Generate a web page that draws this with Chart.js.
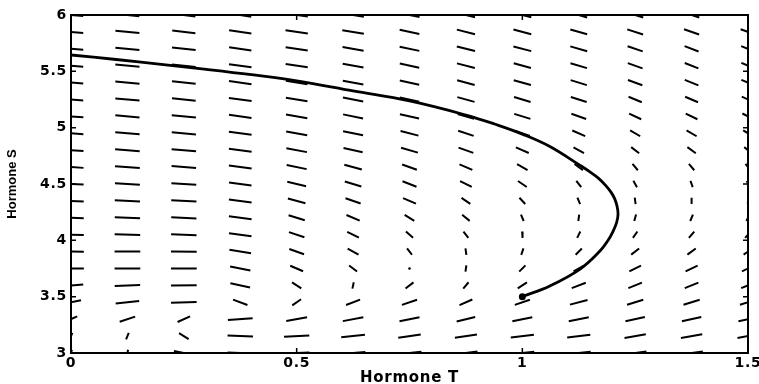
<!DOCTYPE html>
<html lang="en">
<head>
  <meta charset="UTF-8">
  <title>Hormone T / Hormone S</title>
  <script src="https://cdn.jsdelivr.net/npm/chart.js@4.4.0/dist/chart.umd.min.js"></script>
  <style>
    html, body { margin: 0; padding: 0; background: #fff; }
    .chart-box { width: 759px; height: 384px; }
  </style>
</head>
<body>
  <div class="chart-box"><canvas id="fieldChart"></canvas></div>

  <script>
    // points where the direction field was sampled
    const tValues = [0, 0.125, 0.25, 0.375, 0.5, 0.625, 0.75, 0.875, 1, 1.125, 1.25, 1.375, 1.5];
    const sValues = [3, 3.15, 3.3, 3.45, 3.6, 3.75, 3.9, 4.05, 4.2, 4.35, 4.5,
                     4.65, 4.8, 4.95, 5.1, 5.25, 5.4, 5.55, 5.7, 5.85, 6];

    // direction of (dT, dS) in degrees, one list per T column, from S = 3 up to S = 6
    // null = no direction (rest point)
    const angT0  = [86, 84, 61, 39, 18, 0, -2, -7, -9, -9, -11, -14, -14, -16, -16, -18, -18, -18, -18, -18, -18];
    const angT1  = [87, 84, 53, 24, 9, 0, 0, -7, -10, -11, -14, -16, -17, -19, -20, -20, -20, -20, -21, -21, -22];
    const angT2  = [-40, -68, 61, 6, 3, 0, -3, -9, -12, -12, -15, -18, -18, -20, -20, -23, -23, -23, -23, -26, -26];
    const angT3  = [-11, -9, 16, -56, -40, -38, -33, -29, -28, -28, -29, -28, -28, -28, -29, -28, -29, -29, -30, -30, -31];
    const angT4  = [7, 11, 36, 70, -69, -60, -55, -53, -51, -47, -43, -39, -37, -35, -34, -33, -33, -31, -31, -30, -30];
    const angT5  = [18, 23, 37, 57, 87, -72, -65, -63, -59, -54, -50, -47, -42, -39, -39, -38, -37, -36, -35, -33, -33];
    const angT6  = [22, 29, 39, 54, 72, null, -79, -74, -68, -60, -57, -55, -49, -46, -42, -41, -41, -41, -40, -40, -39];
    const angT7  = [26, 31, 44, 60, 78, 88, -88, -79, -73, -70, -63, -60, -55, -53, -50, -48, -47, -46, -45, -45, -45];
    const angT8  = [22, 26, 39, 54, 69, 76, 85, -89, -84, -77, -70, -66, -60, -54, -51, -50, -48, -48, -46, -46, -46];
    const angT9  = [22, 26, 39, 47, 57, 66, 76, 83, 88, -84, -79, -71, -66, -60, -55, -52, -51, -50, -49, -49, -49];
    const angT10 = [29, 34, 41, 51, 58, 63, 72, 80, 86, -88, -82, -78, -72, -67, -62, -59, -56, -55, -54, -52, -51];
    const angT11 = [29, 34, 41, 51, 58, 62, 71, 78, 84, 90, -85, -78, -71, -67, -63, -60, -58, -58, -57, -54, -53];
    const angT12 = [30, 35, 42, 51, 58, 62, 70, 77, 83, 89, -85, -79, -73, -68, -64, -61, -59, -59, -58, -55, -55];

    // solution curve, from the start point (1, 3.5)
    const trajT = [1.000, 1.061, 1.128, 1.172, 1.190, 1.201, 1.209, 1.212, 1.210, 1.2045, 1.196, 1.184, 1.169, 1.149,
                   1.128, 1.060, 1.000, 0.940, 0.875, 0.750, 0.625, 0.500, 0.400, 0.300, 0.200, 0.100, 0.000];
    const trajS = [3.500, 3.595, 3.745, 3.905, 4.000, 4.080, 4.160, 4.230, 4.300, 4.370, 4.430, 4.490, 4.550, 4.610,
                   4.665, 4.835, 4.943, 5.030, 5.112, 5.237, 5.326, 5.415, 5.470, 5.518, 5.562, 5.605, 5.645];

    const tTicks = [0, 0.5, 1, 1.5];
    const sTicks = [3, 3.5, 4, 4.5, 5, 5.5, 6];

    const angleColumns = [angT0, angT1, angT2, angT3, angT4, angT5, angT6,
                          angT7, angT8, angT9, angT10, angT11, angT12];
    const SEG_LEN = 0.057; // length of one field mark, data units

    // every mark is two points, then a gap
    const segPoints = [];
    const restPoints = [];
    tValues.forEach((t, i) => {
      sValues.forEach((s, j) => {
        const a = angleColumns[i][j];
        if (a === null) { restPoints.push({x: t, y: s}); return; }
        const r = a * Math.PI / 180;
        const dx = Math.cos(r) * SEG_LEN / 2;
        const dy = Math.sin(r) * SEG_LEN / 2;
        segPoints.push({x: t - dx, y: s - dy}, {x: t + dx, y: s + dy}, {x: t, y: null});
      });
    });
    const trajPoints = trajT.map((t, i) => ({x: t, y: trajS[i]}));

    // box round the plot, inward ticks, a little spacing for the wide labels
    const axisBox = {
      id: 'axisBox',
      beforeDraw(chart) { chart.ctx.letterSpacing = '0.7px'; },
      afterDatasetsDraw(chart) { chart.ctx.letterSpacing = '0px'; },
      afterDraw(chart) {
        const {ctx, chartArea: a, scales: {x, y}} = chart;
        ctx.save();
        ctx.strokeStyle = '#000';
        ctx.lineWidth = 1.5;
        ctx.beginPath();
        tTicks.forEach(v => {
          const px = x.getPixelForValue(v);
          ctx.moveTo(px, a.bottom); ctx.lineTo(px, a.bottom - 5);
          ctx.moveTo(px, a.top); ctx.lineTo(px, a.top + 5);
        });
        sTicks.forEach(v => {
          const py = y.getPixelForValue(v);
          ctx.moveTo(a.left, py); ctx.lineTo(a.left + 5, py);
          ctx.moveTo(a.right, py); ctx.lineTo(a.right - 5, py);
        });
        ctx.stroke();
        ctx.lineWidth = 2;
        ctx.strokeRect(a.left, a.top, a.right - a.left, a.bottom - a.top);
        ctx.restore();
      }
    };

    const tickFont = { family: "'DejaVu Sans', sans-serif", size: 14, weight: 'bold' };

    new Chart(document.getElementById('fieldChart'), {
      type: 'scatter',
      data: {
        datasets: [
          {
            label: 'start',
            data: [trajPoints[0]],
            pointRadius: 3.5,
            pointBackgroundColor: '#000',
            pointBorderWidth: 0,
            order: 0
          },
          {
            label: 'solution',
            data: trajPoints,
            showLine: true,
            tension: 0.4,
            borderColor: '#000',
            borderWidth: 2.8,
            pointRadius: 0,
            order: 1
          },
          {
            label: 'rest',
            data: restPoints,
            pointRadius: 1.3,
            pointBackgroundColor: '#000',
            pointBorderWidth: 0,
            order: 2
          },
          {
            label: 'field',
            data: segPoints,
            showLine: true,
            spanGaps: false,
            borderColor: '#000',
            borderWidth: 2,
            pointRadius: 0,
            order: 3
          }
        ]
      },
      options: {
        responsive: true,
        maintainAspectRatio: false,
        animation: false,
        layout: { padding: { left: 0, right: 11, top: 15, bottom: 0 } },
        plugins: {
          legend: { display: false },
          tooltip: { enabled: false }
        },
        scales: {
          x: {
            type: 'linear',
            min: 0,
            max: 1.5,
            grid: { display: false, drawTicks: false },
            border: { display: false },
            afterBuildTicks: scale => { scale.ticks = tTicks.map(v => ({value: v})); },
            afterFit: scale => { scale.height = 31; scale.paddingLeft = 0; scale.paddingRight = 0; },
            ticks: {
              color: '#000',
              font: tickFont,
              padding: 2,
              maxRotation: 0,
              autoSkip: false,
              callback: v => String(v)
            },
            title: {
              display: true,
              text: 'Hormone T',
              color: '#000',
              font: { family: "'DejaVu Sans', sans-serif", size: 15, weight: 'bold', lineHeight: 1 },
              padding: { top: 0, bottom: -1.5 }
            }
          },
          y: {
            type: 'linear',
            min: 3,
            max: 6,
            grid: { display: false, drawTicks: false, z: 1 },
            border: { display: false },
            afterBuildTicks: scale => { scale.ticks = sTicks.map(v => ({value: v})); },
            afterFit: scale => { scale.width = 71; scale.paddingTop = 0; scale.paddingBottom = 0; },
            ticks: {
              color: '#000',
              font: tickFont,
              padding: 4,
              autoSkip: false,
              callback: v => String(v)
            },
            title: {
              display: true,
              text: 'Hormone S',
              color: '#000',
              font: { family: "'Liberation Sans', Arial, sans-serif", size: 13, weight: 'bold', lineHeight: 1 },
              padding: { top: 6, bottom: 0 }
            }
          }
        }
      },
      plugins: [axisBox]
    });
  </script>
</body>
</html>
